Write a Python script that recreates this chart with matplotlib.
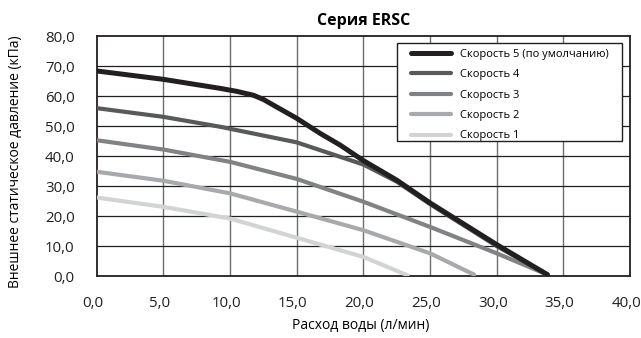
import matplotlib.pyplot as plt
import matplotlib.transforms as mtransforms
from matplotlib.patches import Rectangle
from matplotlib.ticker import FuncFormatter

plt.rcParams['font.family'] = ['Open Sans', 'DejaVu Sans']

# flow (l/min) and external static pressure (kPa)
flow5 = [0, 5, 9.25, 10.5, 11.75, 12.5, 13.25, 15, 16.75, 18.25, 20, 22.5, 25, 30, 33.8]
speed5 = [68.4, 65.6, 62.6, 61.6, 60.3, 58.9, 57.0, 52.6, 47.6, 43.7, 38.5, 32.0, 24.4, 10.5, 0.5]
flow4 = [0, 5, 9.25, 15, 16.75, 20, 22.5, 25, 30, 33.8]
speed4 = [56.0, 53.1, 49.8, 44.6, 42.0, 37.2, 31.5, 24.0, 10.0, 0.5]
flow3 = [0, 5, 10, 15, 20, 25, 30, 33.8]
speed3 = [45.3, 42.2, 38.1, 32.4, 24.8, 16.4, 7.6, 0.5]
flow2 = [0, 5, 10, 15, 20, 25, 28.3]
speed2 = [34.8, 31.8, 27.6, 21.5, 15.3, 7.6, 0.5]
flow1 = [0, 5, 10, 15, 20, 23.3]
speed1 = [26.2, 23.1, 19.2, 12.8, 6.4, 0.3]

labels = ['Скорость 5 (по умолчанию)', 'Скорость 4', 'Скорость 3',
          'Скорость 2', 'Скорость 1']
colors = ['#231f20', '#58595b', '#808285', '#a7a9ac', '#d1d3d4']
widths = [3.6, 3.0, 3.0, 3.0, 3.0]

fig = plt.figure(figsize=(6.41, 3.38), dpi=100)
ax = fig.add_axes([0.151, 0.183, 0.832, 0.710])

series = [(flow5, speed5), (flow4, speed4), (flow3, speed3),
          (flow2, speed2), (flow1, speed1)]
handles = []
for i, (xs, ys) in enumerate(series):
    ln, = ax.plot(xs, ys, color=colors[i], lw=widths[i], label=labels[i],
                  solid_capstyle='round', solid_joinstyle='round',
                  zorder=10 - i)
    handles.append(ln)

ax.set_xlim(0, 40)
ax.set_ylim(0, 80)
ax.set_xticks(range(0, 41, 5))
ax.set_yticks(range(0, 81, 10))
fmt = FuncFormatter(lambda v, p: ('%.1f' % v).replace('.', ','))
ax.xaxis.set_major_formatter(fmt)
ax.yaxis.set_major_formatter(fmt)
ax.tick_params(length=0, labelsize=10.8, colors='#231f20')
ax.tick_params(axis='x', pad=14)
ax.tick_params(axis='y', pad=16)

# x labels sit a little left of their grid lines in the original
shift = mtransforms.ScaledTranslation(-4 / 100, 0, fig.dpi_scale_trans)
for lab in ax.get_xticklabels():
    lab.set_transform(lab.get_transform() + shift)

for v in range(5, 40, 5):
    ax.axvline(v, color='#6d6e71', lw=1.0, zorder=1)
for v in range(10, 80, 10):
    ax.axhline(v, color='#231f20', lw=0.9, zorder=1)
for s in ax.spines.values():
    s.set_color('#231f20')
    s.set_linewidth(1.3)

ax.set_title('Серия ERSC', fontsize=11.5, fontweight='bold', pad=8)
ax.set_xlabel('Расход воды (л/мин)', fontsize=10)
ax.xaxis.set_label_coords(0.4955, -0.175)
ax.set_ylabel('Внешнее статическое давление (кПа)', fontsize=10)
ax.yaxis.set_label_coords(-0.138, 0.475)

# legend box is wider than its content in the original
frame = Rectangle((0.563, 0.5625), 0.422, 0.4085, transform=ax.transAxes,
                  facecolor='white', edgecolor='#231f20', lw=1.0, zorder=19)
ax.add_patch(frame)
leg = ax.legend(handles=handles, loc='upper left', fontsize=8,
                bbox_to_anchor=(0.589, 0.948), handlelength=3.6,
                handletextpad=0.8, borderaxespad=0, borderpad=0,
                frameon=False, labelspacing=0.85)
leg.set_zorder(20)

fig.savefig('out.png', dpi=100)
